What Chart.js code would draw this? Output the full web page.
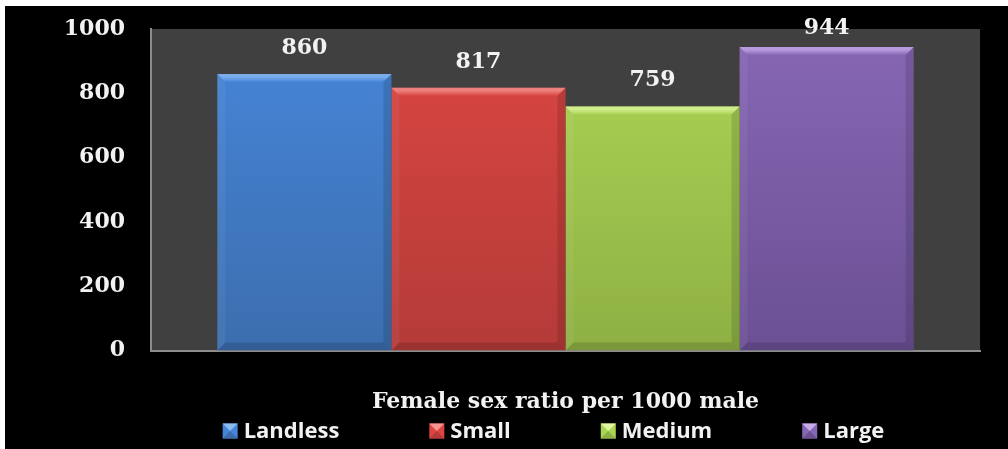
<!DOCTYPE html>
<html>
<head>
<meta charset="utf-8">
<script src="https://cdn.jsdelivr.net/npm/chart.js@4.4.1/dist/chart.umd.min.js"></script>
<style>
  html, body { margin: 0; background: #fff; }
  #wrap { position: absolute; left: 5px; top: 6px; width: 1003px; height: 443px; background: #000; }
</style>
</head>
<body>
<div id="wrap"><canvas id="sexRatio"></canvas></div>
<script>
// data
const groups = ["Landless", "Small", "Medium", "Large"];
const ratio = [860, 817, 759, 944];
const yTicks = [0, 200, 400, 600, 800, 1000];
const axisTitle = "Female sex ratio per 1000 male";

// colours per group
const topColors = ["#4686D9", "#DB4642", "#ADD555", "#8767B5"];
const bottomColors = ["#3C6EAE", "#B43B38", "#8EB044", "#6B5094"];
const shineColors = ["#8CBBF2", "#F59490", "#E0F7A0", "#C7ACEB"];

const serif = "'DejaVu Serif', serif";

function barFill(i) {
  return (ctx) => {
    const area = ctx.chart.chartArea;
    if (!area) return topColors[i];
    const g = ctx.chart.ctx.createLinearGradient(0, area.top, 0, area.bottom);
    g.addColorStop(0, topColors[i]);
    g.addColorStop(1, bottomColors[i]);
    return g;
  };
}

// dark plot background
const plotBg = {
  id: "plotBg",
  beforeDraw(chart) {
    const { ctx, chartArea: a } = chart;
    ctx.save();
    ctx.fillStyle = "#404040";
    ctx.fillRect(a.left, a.top, a.right - a.left, a.bottom - a.top);
    ctx.restore();
  }
};

// bevel edges + value labels
const bevel = {
  id: "bevel",
  afterDatasetsDraw(chart) {
    const ctx = chart.ctx;
    const area = chart.chartArea;
    ctx.save();
    chart.data.datasets.forEach((ds, i) => {
      const bar = chart.getDatasetMeta(i).data[0];
      const { x, y, base, width } = bar.getProps(["x", "y", "base", "width"], true);
      const l = x - width / 2, r = x + width / 2, b = 8;
      // top bevel, soft
      const tg = ctx.createLinearGradient(0, y, 0, y + b);
      tg.addColorStop(0, shineColors[i]);
      tg.addColorStop(0.35, shineColors[i]);
      tg.addColorStop(1, topColors[i]);
      ctx.globalAlpha = 0.75;
      ctx.fillStyle = tg;
      ctx.beginPath();
      ctx.moveTo(l, y); ctx.lineTo(r, y); ctx.lineTo(r - b, y + b); ctx.lineTo(l + b, y + b);
      ctx.closePath(); ctx.fill();
      ctx.globalAlpha = 1;
      // left
      ctx.fillStyle = "rgba(255,255,255,0.05)";
      ctx.beginPath();
      ctx.moveTo(l, y); ctx.lineTo(l + b, y + b); ctx.lineTo(l + b, base - b); ctx.lineTo(l, base);
      ctx.closePath(); ctx.fill();
      // right
      ctx.fillStyle = "rgba(0,0,0,0.12)";
      ctx.beginPath();
      ctx.moveTo(r, y); ctx.lineTo(r - b, y + b); ctx.lineTo(r - b, base - b); ctx.lineTo(r, base);
      ctx.closePath(); ctx.fill();
      // bottom
      ctx.fillStyle = "rgba(0,0,0,0.14)";
      ctx.beginPath();
      ctx.moveTo(l, base); ctx.lineTo(r, base); ctx.lineTo(r - b, base - b); ctx.lineTo(l + b, base - b);
      ctx.closePath(); ctx.fill();

      // value label
      ctx.fillStyle = "#F2F2F2";
      ctx.font = "bold 22px " + serif;
      ctx.textAlign = "center";
      ctx.textBaseline = "middle";
      ctx.fillText(String(ds.data[0]), x, Math.max(y - 26, area.top - 1));
    });
    ctx.restore();
  }
};

// legend drawn under the axis title
const bottomLegend = {
  id: "bottomLegend",
  afterDraw(chart) {
    const ctx = chart.ctx;
    const area = chart.chartArea;
    const box = 15, gap = 6, itemGap = 90;
    ctx.save();
    ctx.font = "bold 22px 'Open Sans', sans-serif";
    ctx.textBaseline = "middle";
    ctx.textAlign = "left";
    const widths = chart.data.datasets.map(ds => box + gap + ctx.measureText(ds.label).width);
    const total = widths.reduce((s, w) => s + w, 0) + itemGap * (widths.length - 1);
    let x = (area.left + area.right) / 2 - 12 - total / 2;
    const yc = 425;
    chart.data.datasets.forEach((ds, i) => {
      const bx = x, by = yc - box / 2;
      ctx.fillStyle = topColors[i];
      ctx.fillRect(bx, by, box, box);
      ctx.fillStyle = shineColors[i];
      ctx.beginPath();
      ctx.moveTo(bx, by); ctx.lineTo(bx + box, by); ctx.lineTo(bx + box / 2, by + box / 2);
      ctx.closePath(); ctx.fill();
      ctx.fillStyle = bottomColors[i];
      ctx.beginPath();
      ctx.moveTo(bx, by + box); ctx.lineTo(bx + box, by + box); ctx.lineTo(bx + box / 2, by + box / 2);
      ctx.closePath(); ctx.fill();
      ctx.fillStyle = "#F2F2F2";
      ctx.fillText(ds.label, bx + box + gap, yc + 1);
      x += widths[i] + itemGap;
    });
    ctx.restore();
  }
};

new Chart(document.getElementById("sexRatio"), {
  type: "bar",
  data: {
    labels: [""],
    datasets: groups.map((g, i) => ({
      label: g,
      data: [ratio[i]],
      backgroundColor: barFill(i),
      borderWidth: 0
    }))
  },
  options: {
    responsive: true,
    maintainAspectRatio: false,
    animation: false,
    layout: { padding: { top: 23, right: 28, bottom: 0, left: 59 } },
    datasets: { bar: { categoryPercentage: 0.84, barPercentage: 1 } },
    plugins: {
      legend: { display: false },
      tooltip: { enabled: false }
    },
    scales: {
      x: {
        grid: { display: false, drawTicks: false },
        border: { display: true, color: "#8C8C8C", width: 2 },
        ticks: { display: false },
        title: {
          display: true,
          text: axisTitle,
          color: "#F2F2F2",
          font: { family: serif, size: 22, weight: "bold" },
          padding: { top: 38, bottom: 34 }
        }
      },
      y: {
        min: yTicks[0],
        max: yTicks[yTicks.length - 1],
        afterBuildTicks: (axis) => { axis.ticks = yTicks.map(v => ({ value: v })); },
        afterFit: (axis) => {
          axis.width = 87;
          axis.paddingTop = 0;
          axis.paddingBottom = 0;
        },
        grid: { display: false, drawTicks: false },
        border: { display: true, color: "#8C8C8C", width: 2 },
        ticks: {
          color: "#F2F2F2",
          padding: 26,
          font: { family: serif, size: 22, weight: "bold" },
          callback: (v) => String(v)
        }
      }
    }
  },
  plugins: [plotBg, bevel, bottomLegend]
});
</script>
</body>
</html>
